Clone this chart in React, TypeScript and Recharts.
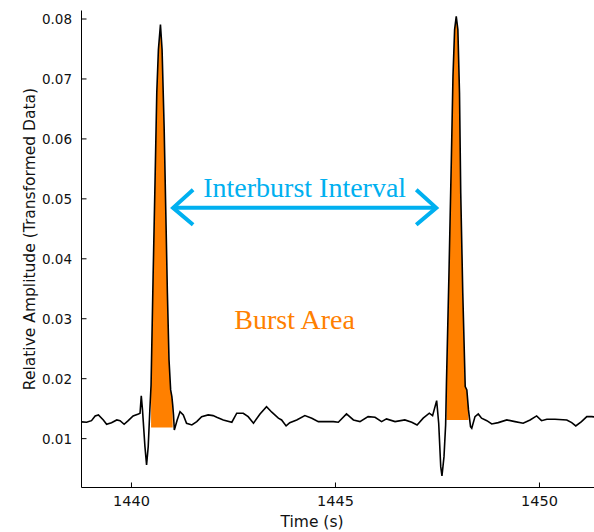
import React from 'react';
import { ComposedChart, Line, Area, XAxis, YAxis, ReferenceLine, ReferenceDot, Label } from 'recharts';

// time (s) of each sample
const times = [
  1438.78, 1438.90, 1439.02, 1439.11, 1439.19, 1439.31, 1439.39, 1439.51, 1439.64, 1439.72,
  1439.82, 1439.92, 1440.04, 1440.17, 1440.21, 1440.24, 1440.27, 1440.33, 1440.37, 1440.41,
  1440.45, 1440.48, 1440.53, 1440.58, 1440.62, 1440.66, 1440.71, 1440.75, 1440.80, 1440.84,
  1440.88, 1440.92, 1440.96, 1440.99, 1441.01, 1441.03, 1441.05, 1441.12, 1441.19, 1441.27,
  1441.35, 1441.48, 1441.60, 1441.72, 1441.88, 1442.00, 1442.09, 1442.25, 1442.46, 1442.58,
  1442.74, 1442.86, 1442.99, 1443.15, 1443.31, 1443.44, 1443.60, 1443.68, 1443.79, 1443.88,
  1444.05, 1444.25, 1444.42, 1444.58, 1444.82, 1444.95, 1445.07, 1445.27, 1445.44, 1445.60,
  1445.80, 1445.97, 1446.13, 1446.25, 1446.46, 1446.70, 1446.87, 1447.00, 1447.15, 1447.30,
  1447.38, 1447.48, 1447.53, 1447.58, 1447.61, 1447.66, 1447.70, 1447.72, 1447.78, 1447.84,
  1447.88, 1447.92, 1447.96, 1448.00, 1448.04, 1448.07, 1448.12, 1448.18, 1448.22, 1448.26,
  1448.31, 1448.34, 1448.42, 1448.50, 1448.58, 1448.71, 1448.83, 1448.99, 1449.20, 1449.40,
  1449.60, 1449.77, 1449.93, 1450.05, 1450.18, 1450.38, 1450.67, 1450.79, 1450.89, 1451.03,
  1451.16, 1451.28, 1451.41,
];

// relative amplitude (transformed data)
const amplitude = [
  0.0128, 0.01274, 0.0130, 0.01379, 0.01396, 0.01312, 0.0124, 0.01267, 0.01312, 0.0130,
  0.0124, 0.0130, 0.01379, 0.01412, 0.01424, 0.01713, 0.01479, 0.00866, 0.00561, 0.00866,
  0.01479, 0.01896, 0.03704, 0.05374, 0.06771, 0.07489, 0.07906, 0.07489, 0.06209, 0.04818,
  0.03432, 0.02314, 0.01813, 0.01701, 0.01563, 0.01396, 0.01145, 0.01312, 0.01451, 0.01396,
  0.01257, 0.01229, 0.01284, 0.01367, 0.01396, 0.01384, 0.01357, 0.01312, 0.01274, 0.01424,
  0.01424, 0.01367, 0.01257, 0.01412, 0.01534, 0.01441, 0.01341, 0.01312, 0.01212, 0.01267,
  0.01312, 0.01384, 0.01341, 0.01284, 0.01284, 0.01284, 0.01274, 0.01412, 0.01312, 0.01284,
  0.01367, 0.01357, 0.01284, 0.01329, 0.01284, 0.01312, 0.01274, 0.01229, 0.01341, 0.01424,
  0.01384, 0.01634, 0.01257, 0.00533, 0.00377, 0.0070, 0.01229, 0.0193, 0.03704, 0.05653,
  0.07043, 0.07823, 0.08045, 0.07823, 0.06766, 0.05102, 0.03432, 0.01868, 0.01813, 0.01479,
  0.0120, 0.01174, 0.01367, 0.01412, 0.01341, 0.0130, 0.01245, 0.01267, 0.01312, 0.01284,
  0.01257, 0.01312, 0.01379, 0.0130, 0.01324, 0.01324, 0.01312, 0.01267, 0.01212, 0.01284,
  0.01367, 0.01367, 0.0136,
];

// burst windows: start, end, threshold level
const burstStarts = [1440.48, 1447.72];
const burstEnds = [1441.01, 1448.26];
const burstFloors = [0.01184, 0.01312];

const xTicks = [1440, 1445, 1450];
const yTicks = [0.01, 0.02, 0.03, 0.04, 0.05, 0.06, 0.07, 0.08];

const intervalFrom = 1441.02;
const intervalTo = 1447.47;
const intervalLevel = 0.0485;
const burstLabelAt = { x: 1442.52, y: 0.02831 };

const BLUE = '#00b0f0';
const ORANGE = '#ff8000';
const tickFont = 'DejaVu Sans, sans-serif';

const data = times.map((t, i) => {
  let burst: number[] | null = null;
  for (let b = 0; b < burstStarts.length; b++) {
    if (t >= burstStarts[b] - 1e-9 && t <= burstEnds[b] + 1e-9) {
      burst = [burstFloors[b], amplitude[i]];
    }
  }
  return { t, amp: amplitude[i], burst };
});

const BottomTick = (props: any) => {
  const { x, y, payload } = props;
  return (
    <g>
      <line x1={x} x2={x} y1={y} y2={y - 5} stroke="#000" strokeWidth={1} />
      <text x={x} y={y + 18} textAnchor="middle" fontSize={14.5} fontFamily={tickFont} fill="#111">
        {payload.value}
      </text>
    </g>
  );
};

const TopTick = (props: any) => {
  const { x, y } = props;
  return <line x1={x} x2={x} y1={y} y2={y + 5} stroke="#000" strokeWidth={1} />;
};

const LeftTick = (props: any) => {
  const { x, y, payload } = props;
  return (
    <g>
      <line x1={x} x2={x + 5} y1={y} y2={y} stroke="#000" strokeWidth={1} />
      <text x={x - 9.5} y={y + 5} textAnchor="end" fontSize={13.5} fontFamily={tickFont} fill="#111">
        {payload.value.toFixed(2)}
      </text>
    </g>
  );
};

const IntervalArrow = (props: any) => {
  const { x1, x2, y1 } = props;
  const y = y1;
  const mid = (x1 + x2) / 2;
  return (
    <g>
      <line x1={x1 + 2} x2={x2 - 2} y1={y} y2={y} stroke={BLUE} strokeWidth={4} />
      <polyline points={`${x1 + 20},${y - 18} ${x1},${y} ${x1 + 20},${y + 17}`} fill="none" stroke={BLUE} strokeWidth={4} />
      <polyline points={`${x2 - 20},${y - 18} ${x2},${y} ${x2 - 20},${y + 17}`} fill="none" stroke={BLUE} strokeWidth={4} />
      <text x={mid} y={y - 11} textAnchor="middle" fontSize={28} fontFamily="Liberation Serif, serif" fill={BLUE}>
        Interburst Interval
      </text>
    </g>
  );
};

const BurstText = (props: any) => {
  const { cx, cy } = props;
  return (
    <text x={cx} y={cy} textAnchor="start" fontSize={28} fontFamily="Liberation Serif, serif" fill={ORANGE}>
      Burst Area
    </text>
  );
};

export default function App() {
  return (
    <div style={{ position: 'absolute', left: 0, top: 0, width: 594, height: 532, overflow: 'hidden', background: '#fff' }}>
      <ComposedChart width={597} height={532} data={data} margin={{ top: 10.5, right: 0, left: 0, bottom: 0 }}>
        <XAxis
          dataKey="t"
          type="number"
          domain={[1438.775, 1451.41]}
          allowDataOverflow
          ticks={xTicks}
          tick={<BottomTick />}
          tickLine={false}
          tickSize={0}
          tickMargin={0}
          height={44.5}
          axisLine={{ stroke: '#000', strokeWidth: 1 }}
        >
          <Label
            content={() => (
              <text x={312} y={527} textAnchor="middle" fontSize={15.5} fontFamily={tickFont} fill="#111">
                Time (s)
              </text>
            )}
          />
        </XAxis>
        <XAxis
          xAxisId="top"
          orientation="top"
          dataKey="t"
          type="number"
          domain={[1438.775, 1451.41]}
          allowDataOverflow
          ticks={xTicks}
          tick={<TopTick />}
          tickLine={false}
          tickSize={0}
          tickMargin={0}
          height={0}
          axisLine={{ stroke: '#000', strokeWidth: 1 }}
        />
        <YAxis
          type="number"
          domain={[0.00185, 0.08142]}
          allowDataOverflow
          ticks={yTicks}
          tick={<LeftTick />}
          tickLine={false}
          tickSize={0}
          tickMargin={0}
          width={81.5}
          axisLine={{ stroke: '#000', strokeWidth: 1 }}
        >
          <Label
            content={() => (
              <text
                x={34.5}
                y={239}
                transform="rotate(-90, 34.5, 239)"
                textAnchor="middle"
                fontSize={15.5}
                fontFamily={tickFont}
                fill="#111"
              >
                Relative Amplitude (Transformed Data)
              </text>
            )}
          />
        </YAxis>
        <Area
          dataKey="burst"
          type="linear"
          stroke="none"
          fill={ORANGE}
          fillOpacity={1}
          isAnimationActive={false}
          connectNulls={false}
          dot={false}
          activeDot={false}
        />
        <Line
          dataKey="amp"
          type="linear"
          stroke="#000"
          strokeWidth={1.6}
          dot={false}
          activeDot={false}
          isAnimationActive={false}
        />
        <ReferenceLine
          segment={[
            { x: intervalFrom, y: intervalLevel },
            { x: intervalTo, y: intervalLevel },
          ]}
          shape={(p: any) => <IntervalArrow {...p} />}
        />
        <ReferenceDot x={burstLabelAt.x} y={burstLabelAt.y} shape={(p: any) => <BurstText {...p} />} />
      </ComposedChart>
    </div>
  );
}
